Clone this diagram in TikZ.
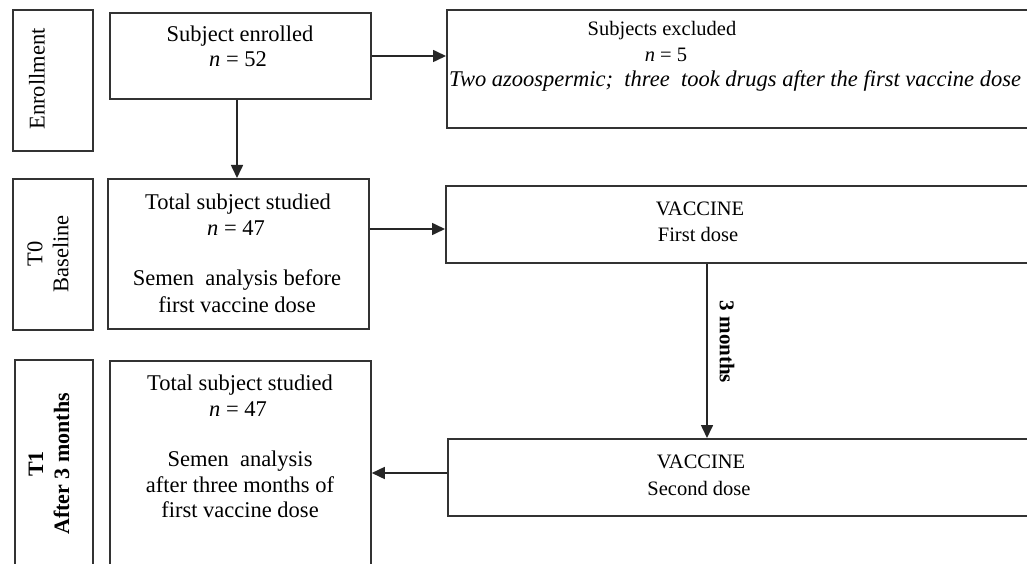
\documentclass[tikz,border=0pt]{standalone}
\usepackage{fontspec}
\setmainfont{Liberation Serif}
\usetikzlibrary{arrows.meta,calc}
\begin{document}
\begin{tikzpicture}[x=1pt,y=-1pt,
  box/.style={draw=black!80, line width=1.8pt, rectangle, inner sep=0pt, anchor=north west},
  arr/.style={draw=black!85, line width=1.6pt, -{Triangle[length=13pt,width=12pt]}},
  lt/.style={font=\fontsize{22.5}{26}\selectfont, anchor=base, inner sep=0pt, text=black},
  rt/.style={font=\fontsize{20.5}{24}\selectfont, anchor=base, inner sep=0pt, text=black},
  lab/.style={font=\fontsize{22.5}{26}\selectfont, rotate=90, align=center, inner sep=0pt, text=black}]
\useasboundingbox (0,0) rectangle (1027,564);
\clip (0,0) rectangle (1027,564);
\fill[white] (0,0) rectangle (1027,564);
% boxes
\node[box, minimum width=600pt, minimum height=118pt] (ex) at (446,9) {};
\node[box, minimum width=80pt, minimum height=141pt] (enl) at (12,9) {};
\node[box, minimum width=261pt, minimum height=86pt] (en) at (109,12) {};
\node[box, minimum width=80pt, minimum height=151pt] (t0l) at (12,178) {};
\node[box, minimum width=261pt, minimum height=150pt] (t0) at (107,178) {};
\node[box, minimum width=600pt, minimum height=77pt] (v1) at (445,185) {};
\node[box, minimum width=78pt, minimum height=250pt] (t1l) at (14,359) {};
\node[box, minimum width=261pt, minimum height=250pt] (t1) at (109,360) {};
\node[box, minimum width=600pt, minimum height=77pt] (v2) at (447,438) {};
% labels
\node[lab] (enlt) at (37,79) {Enrollment};
\node[lab] (t0lt) at (48,254) {T0\\Baseline};
\node[lab, font=\fontsize{22}{26}\selectfont\bfseries] (t1lt) at (49,464) {T1\\After 3 months};
% texts
\node[lt] (en1) at (240,42) {Subject enrolled};
\node[lt] (en2) at (238,67) {\textit{n} = 52};
\node[rt] (ex1) at (662,36) {Subjects excluded};
\node[rt] (ex2) at (666,62) {\textit{n} = 5};
\node[rt, anchor=base west, font=\fontsize{22.5}{26}\selectfont\itshape] (ex3) at (449,87) {Two azoospermic;\ \ three\ \ took drugs after the first vaccine dose};
\node[lt] (t01) at (238,209) {Total subject studied};
\node[lt] (t02) at (236,235) {\textit{n} = 47};
\node[lt] (t03) at (237,285) {Semen\ \ analysis before};
\node[lt] (t04) at (237,312) {first vaccine dose};
\node[rt] (v11) at (700,215) {VACCINE};
\node[rt] (v12) at (698,241) {First dose};
\node[lt] (t11) at (240,390) {Total subject studied};
\node[lt] (t12) at (238,416) {\textit{n} = 47};
\node[lt] (t13) at (240,466) {Semen\ \ analysis};
\node[lt] (t14) at (240,492) {after three months of};
\node[lt] (t15) at (240,517) {first vaccine dose};
\node[rt] (v21) at (701,468) {VACCINE};
\node[rt] (v22) at (699,495) {Second dose};
% arrows
\draw[arr] (en.east |- 0,56) -- (ex.west |- 0,56);
\draw[arr] (en.south -| 237,0) -- (t0.north -| 237,0);
\draw[arr] (t0.east |- 0,229) -- (v1.west |- 0,229);
\coordinate (m1) at (707,0);
\draw[arr] (v1.south -| m1) -- (v2.north -| m1);
\node[font=\fontsize{21}{24}\selectfont\bfseries, rotate=-90, inner sep=0pt] (mon) at (727,342) {3 months};
\draw[arr] (v2.west |- 0,473) -- (t1.east |- 0,473);
\end{tikzpicture}
\end{document}
